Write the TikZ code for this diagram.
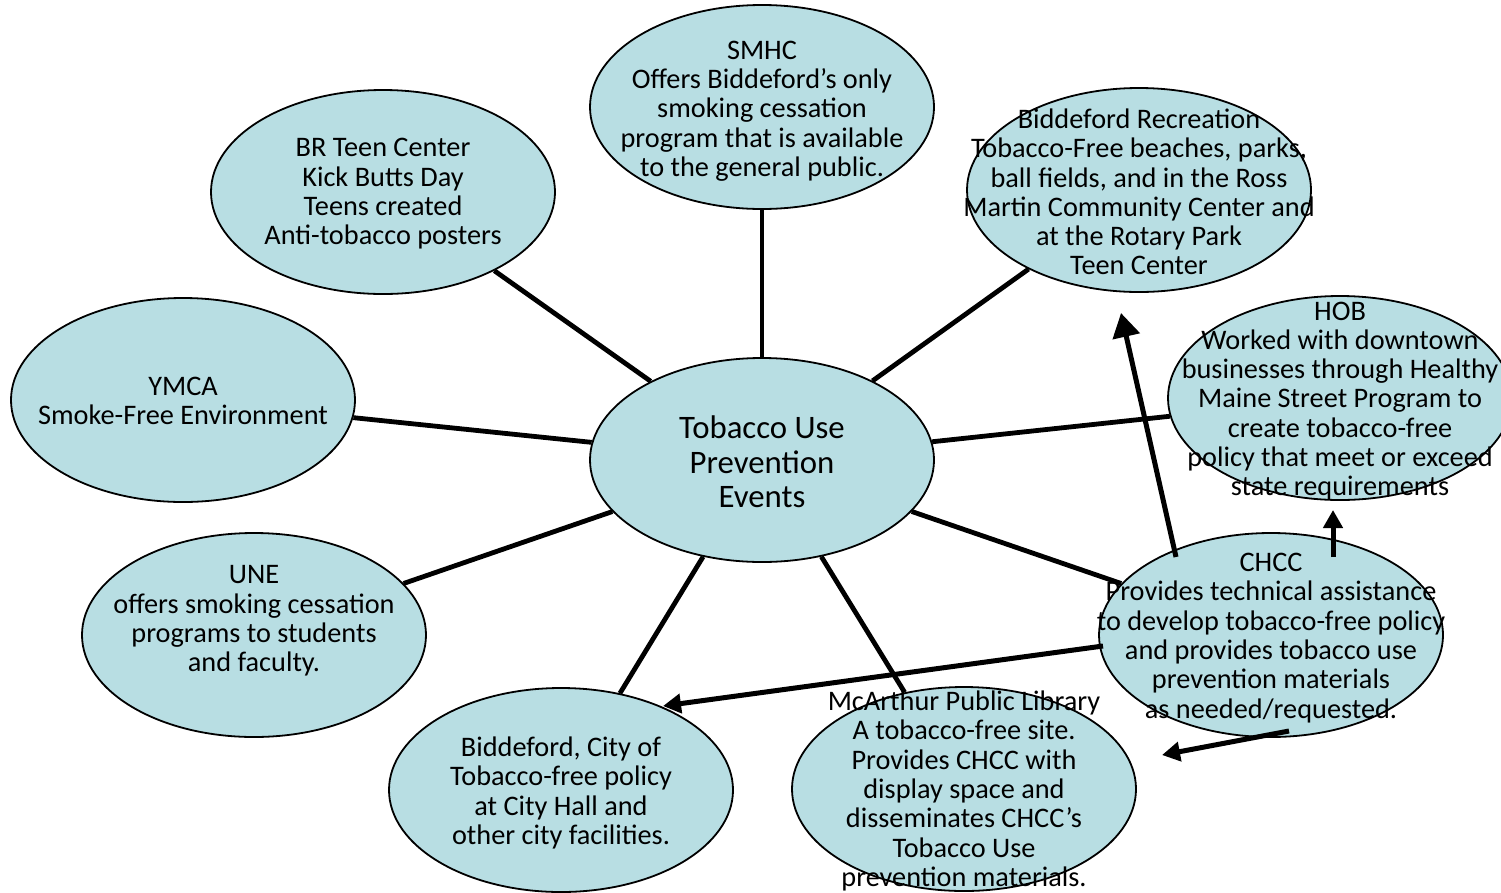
\documentclass[tikz,border=0pt]{standalone}
\usepackage{fontspec}
\setmainfont{Carlito}
\usetikzlibrary{shapes.geometric,arrows.meta}
\definecolor{bubfill}{RGB}{184,222,227}
\tikzset{
  bub/.style={ellipse,draw=black,line width=1.8,fill=bubfill,minimum width=344,minimum height=204,inner sep=0},
  txt/.style={align=center,inner sep=0,font=\fontsize{28.3}{29.3}\selectfont},
  bigtxt/.style={align=center,inner sep=0,font=\fontsize{32.8}{34.5}\selectfont},
  spoke/.style={line width=4.8},
  arr/.style={line width=5,-{Triangle[length=18,width=19]}},
  bigarr/.style={line width=5,-{Triangle[length=24,width=27]}}
}
\begin{document}
\begin{tikzpicture}[x=1pt,y=-1pt]
\useasboundingbox (0,0) rectangle (1501,892);
% ellipses
\node[bub] (smhc) at (762,107) {};
\node[bub] (brteen) at (383,192) {};
\node[bub] (brec) at (1139,190) {};
\node[bub] (ymca) at (183,400) {};
\node[bub] (hob) at (1340,398) {};
\node[bub] (une) at (254,635) {};
\node[bub] (chcc) at (1271,635) {};
\node[bub] (city) at (561,790) {};
\node[bub] (lib) at (964,789) {};
\node[bub] (ctr) at (762,460) {};
% spokes
\foreach \n in {smhc,brteen,brec,ymca,hob,une,chcc,city,lib}
  \draw[spoke] (ctr) -- (\n);
% texts
\node[bigtxt] (ctrt) at (762,462) {Tobacco Use\\Prevention\\Events};
\node[txt] (smhct) at (762,111) {SMHC\\Offers Biddeford’s only\\smoking cessation\\program that is available\\to the general public.};
\node[txt] (brteent) at (383,194) {BR Teen Center\\Kick Butts Day\\Teens created\\Anti-tobacco posters};
\node[txt] (brect) at (1139,192) {Biddeford Recreation\\Tobacco-Free beaches, parks,\\ball fields, and in the Ross\\Martin Community Center and\\at the Rotary Park\\Teen Center};
\node[txt] (ymcat) at (183,401) {YMCA\\Smoke-Free Environment};
\node[txt] (hobt) at (1340,401) {HOB\\Worked with downtown\\businesses through Healthy\\Maine Street Program to\\create tobacco-free\\policy that meet or exceed\\state requirements};
\node[txt] (unet) at (254,621) {UNE\\offers smoking cessation\\programs to students\\and faculty.};
\node[txt] (chcct) at (1271,638) {CHCC\\Provides technical assistance\\to develop tobacco-free policy\\and provides tobacco use\\prevention materials\\as needed/requested.};
\node[txt] (cityt) at (561,793) {Biddeford, City of\\Tobacco-free policy\\at City Hall and\\other city facilities.};
\node[txt] (libt) at (964,791) {McArthur Public Library\\A tobacco-free site.\\Provides CHCC with\\display space and\\disseminates CHCC’s\\Tobacco Use\\prevention materials.};
% arrows
\coordinate (a1s) at (1176,557);
\coordinate (a1e) at (1121,313);
\coordinate (a2s) at (1333,557);
\coordinate (a2e) at (1333,510);
\coordinate (a3s) at (1103,646);
\coordinate (a3e) at (663,706);
\coordinate (a4s) at (1289,731);
\coordinate (a4e) at (1162,755);
\draw[bigarr] (a1s) -- (a1e);
\draw[arr] (a2s) -- (a2e);
\draw[arr] (a3s) -- (a3e);
\draw[arr] (a4s) -- (a4e);
\end{tikzpicture}
\end{document}
